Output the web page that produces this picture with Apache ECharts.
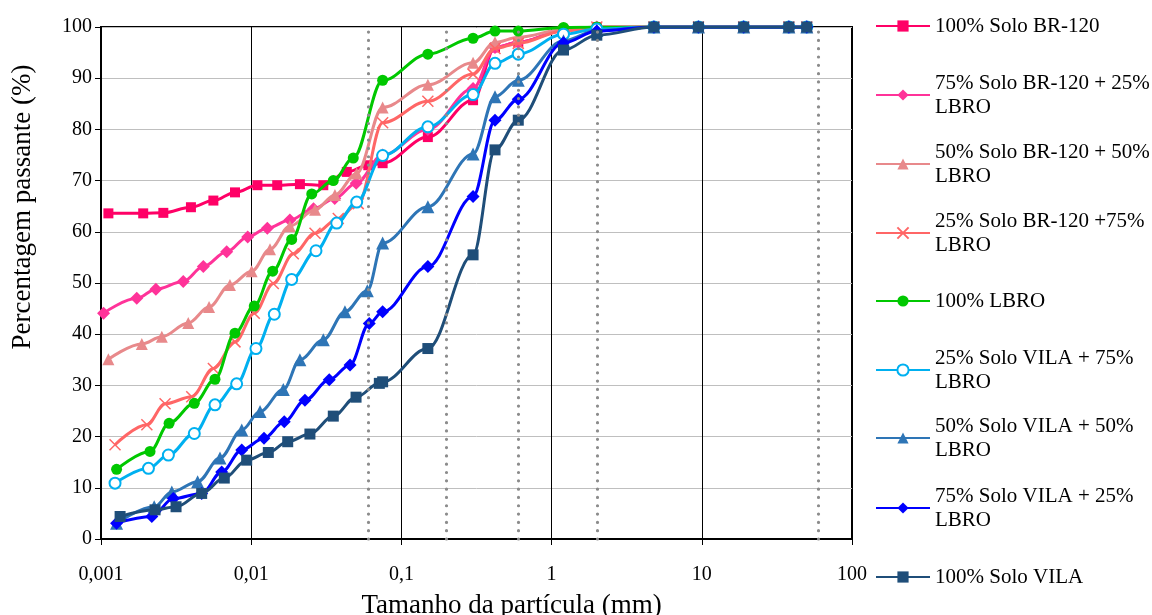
<!DOCTYPE html>
<html><head><meta charset="utf-8">
<script src="https://cdn.jsdelivr.net/npm/echarts@6/dist/echarts.min.js"></script>
<style>html,body{margin:0;padding:0;background:#fff}#c{width:1152px;height:615px}</style>
</head><body><div id="c"></div>
<script>
// ---- data ----
const xTickLabels = ['0,001', '0,01', '0,1', '1', '10', '100'];
const boundaryLines = [0.002, 0.06, 0.2, 0.6, 2, 60];
const sieveSizes = [0.075, 0.15, 0.3, 0.42, 0.6, 1.2, 2, 4.8, 9.5, 19, 38, 50];

const seriesNames = [
  '100% Solo BR-120',
  '75% Solo BR-120 + 25%\nLBRO',
  '50% Solo BR-120 + 50%\nLBRO',
  '25% Solo BR-120 +75%\nLBRO',
  '100% LBRO',
  '25% Solo VILA + 75%\nLBRO',
  '50% Solo VILA + 50%\nLBRO',
  '75% Solo VILA + 25%\nLBRO',
  '100% Solo VILA'
];

const sed_BR120 = [0.00112, 0.00191, 0.0026, 0.00397, 0.0056, 0.0078, 0.011, 0.0149, 0.0211, 0.0302, 0.0433, 0.0602];
const pass_BR120 = [63.6, 63.6, 63.7, 64.8, 66.1, 67.7, 69.1, 69.1, 69.3, 69.1, 71.7, 73.0, 73.4, 78.5, 85.7, 96.0, 97.0, 99.3, 100, 100, 100, 100, 100, 100];

const sed_75BR = [0.00104, 0.00173, 0.00232, 0.00353, 0.0048, 0.00687, 0.00948, 0.0128, 0.0181, 0.026, 0.036, 0.05];
const pass_75BR = [44.1, 47.0, 48.8, 50.3, 53.2, 56.1, 59.0, 60.7, 62.3, 64.5, 66.5, 69.5, 75.0, 80.0, 88.0, 96.0, 97.0, 99.3, 100, 100, 100, 100, 100, 100];

const sed_50BR = [0.00112, 0.00187, 0.00254, 0.00381, 0.00524, 0.00722, 0.01007, 0.01334, 0.0181, 0.0266, 0.0361, 0.0504];
const pass_50BR = [35.1, 38.1, 39.5, 42.2, 45.3, 49.6, 52.3, 56.6, 61.1, 64.3, 67.2, 71.4, 84.3, 88.7, 93.0, 97.0, 98.0, 99.5, 100, 100, 100, 100, 100, 100];

const sed_25BR = [0.00124, 0.00202, 0.00267, 0.00402, 0.0056, 0.0078, 0.01048, 0.01403, 0.01906, 0.0266, 0.038, 0.0516];
const pass_25BR = [18.4, 22.3, 26.4, 27.8, 33.3, 38.5, 44.1, 49.9, 55.7, 59.7, 62.6, 65.5, 81.3, 85.5, 90.8, 95.8, 96.8, 99.2, 100, 100, 100, 100, 100, 100];

const sed_LBRO = [0.00127, 0.00212, 0.00284, 0.00418, 0.00574, 0.0078, 0.01048, 0.0139, 0.0186, 0.0253, 0.0352, 0.0478];
const pass_LBRO = [13.6, 17.1, 22.6, 26.5, 31.2, 40.2, 45.5, 52.3, 58.5, 67.4, 70.0, 74.4, 89.6, 94.7, 97.8, 99.2, 99.2, 99.9, 100, 100, 100, 100, 100, 100];

const sed_25V = [0.00124, 0.00207, 0.00281, 0.00418, 0.00574, 0.0080, 0.01076, 0.01425, 0.0186, 0.027, 0.0371, 0.0504];
const pass_25V = [10.9, 13.8, 16.4, 20.6, 26.2, 30.3, 37.2, 43.9, 50.7, 56.3, 61.7, 65.8, 74.9, 80.5, 86.8, 92.9, 94.7, 98.6, 99.6, 100, 100, 100, 100, 100];

const sed_50V = [0.00127, 0.00226, 0.00296, 0.0044, 0.0062, 0.00865, 0.01145, 0.01636, 0.0211, 0.0302, 0.0421, 0.0593];
const pass_50V = [3.1, 6.3, 9.2, 11.2, 15.8, 21.3, 24.9, 29.2, 35.0, 38.9, 44.4, 48.5, 57.8, 64.9, 75.2, 86.4, 89.6, 97.3, 99.3, 100, 100, 100, 100, 100];

const sed_75V = [0.00127, 0.00218, 0.00303, 0.00468, 0.00636, 0.00865, 0.01217, 0.0166, 0.0228, 0.0331, 0.0455, 0.0611];
const pass_75V = [3.1, 4.4, 7.9, 8.9, 13.1, 17.4, 19.7, 22.9, 27.1, 31.1, 34.0, 42.1, 44.4, 53.2, 66.9, 81.8, 85.9, 96.9, 99.2, 100, 100, 100, 100, 100];

const sed_VILA = [0.00134, 0.00229, 0.00316, 0.00468, 0.00662, 0.00933, 0.013, 0.0175, 0.0246, 0.0352, 0.0499, 0.0713];
const pass_VILA = [4.4, 5.7, 6.3, 8.9, 11.9, 15.4, 16.9, 19.0, 20.5, 24.0, 27.7, 30.4, 30.7, 37.2, 55.5, 76.0, 81.8, 95.5, 98.4, 100, 100, 100, 100, 100];

// ---- styles ----
const FONT = 'Liberation Serif, Times New Roman, serif';
const styles = [
  { color: '#FF0066', symbol: 'rect', size: 10 },
  { color: '#FF3399', symbol: 'diamond', size: 13 },
  { color: '#E8898B', symbol: 'triangle', size: 12 },
  { color: '#FF6666', symbol: 'path://M0,0L10,10M10,0L0,10', size: 11, cross: true },
  { color: '#00C800', symbol: 'circle', size: 11 },
  { color: '#00B0F0', symbol: 'circle', size: 11, hollow: true },
  { color: '#2E75B6', symbol: 'triangle', size: 13 },
  { color: '#0000FF', symbol: 'diamond', size: 13 },
  { color: '#1F4E79', symbol: 'rect', size: 11 }
];
const sedList = [sed_BR120, sed_75BR, sed_50BR, sed_25BR, sed_LBRO, sed_25V, sed_50V, sed_75V, sed_VILA];
const passList = [pass_BR120, pass_75BR, pass_50BR, pass_25BR, pass_LBRO, pass_25V, pass_50V, pass_75V, pass_VILA];
const legendCenters = [26, 95, 164, 233, 301, 370, 438, 508, 577];

const LH = 24;
const series = seriesNames.map((name, i) => {
  const st = styles[i];
  const xs = sedList[i].concat(sieveSizes);
  const data = xs.map((x, k) => [x, passList[i][k]]);
  let itemStyle;
  if (st.hollow) itemStyle = { color: '#FFFFFF', borderColor: st.color, borderWidth: 2 };
  else if (st.cross) itemStyle = { color: 'rgba(0,0,0,0)', borderColor: st.color, borderWidth: 1.5 };
  else itemStyle = { color: st.color };
  const s = {
    type: 'line', name, data,
    smooth: 0.35, smoothMonotone: 'x',
    symbol: st.symbol, symbolSize: st.size, symbolKeepAspect: true,
    showAllSymbol: true,
    lineStyle: { color: st.color, width: 3 },
    itemStyle,
    emphasis: { disabled: true },
    z: 3 + i * 0.01
  };
  if (i === 0) {
    s.markLine = {
      silent: true, symbol: 'none', animation: false,
      label: { show: false },
      lineStyle: { color: '#8C8C8C', width: 3.2, type: [0.01, 8.3], cap: 'round' },
      emphasis: { disabled: true },
      data: boundaryLines.map(v => ({ xAxis: v }))
    };
  }
  return s;
});

const legends = seriesNames.map((name, i) => {
  const twoLine = name.indexOf('\n') >= 0;
  return {
    data: [{ name, textStyle: twoLine ? { padding: [LH, 0, 0, 0] } : {} }],
    left: 875,
    top: twoLine ? legendCenters[i] - 1.5 * LH : legendCenters[i] - 0.5 * LH,
    orient: 'vertical', padding: 0,
    itemWidth: 54, itemHeight: 14, itemGap: 0,
    selectedMode: false,
    textStyle: { fontFamily: FONT, fontSize: 21, color: '#000', lineHeight: LH }
  };
});

const chart = echarts.init(document.getElementById('c'), null, { renderer: 'canvas' });
chart.setOption({
  animation: false,
  backgroundColor: '#fff',
  textStyle: { fontFamily: FONT },
  grid: { left: 101, top: 27, right: 300, bottom: 76, show: true, borderColor: '#000', borderWidth: 2,
    backgroundColor: 'transparent', containLabel: false, outerBoundsMode: 'none' },
  legend: legends,
  xAxis: {
    type: 'log', logBase: 10, min: 0.001, max: 100,
    name: 'Tamanho da partícula (mm)', nameLocation: 'middle', nameGap: 53,
    nameTextStyle: { fontFamily: FONT, fontSize: 27, color: '#000', padding: [0, 0, 0, 70] },
    axisLine: { lineStyle: { color: '#000', width: 2 } },
    axisTick: { show: true, length: 6, lineStyle: { color: '#000', width: 1 } },
    minorTick: { show: false },
    axisLabel: { fontFamily: FONT, fontSize: 20, color: '#000', margin: 26,
      formatter: (v, idx) => xTickLabels[idx] },
    splitLine: { show: true, lineStyle: { color: '#000', width: 1 } }
  },
  yAxis: {
    type: 'value', min: 0, max: 100, interval: 10,
    name: 'Percentagem passante (%)', nameLocation: 'middle', nameGap: 65,
    nameTextStyle: { fontFamily: FONT, fontSize: 27, color: '#000', padding: [0, 0, 0, 152] },
    axisLine: { show: true, lineStyle: { color: '#000', width: 2 } },
    axisTick: { show: true, length: 6, lineStyle: { color: '#000', width: 1 } },
    axisLabel: { fontFamily: FONT, fontSize: 20, color: '#000', margin: 9 },
    splitLine: { show: true, lineStyle: { color: '#BFBFBF', width: 1 } }
  },
  series
});
</script>
</body></html>
